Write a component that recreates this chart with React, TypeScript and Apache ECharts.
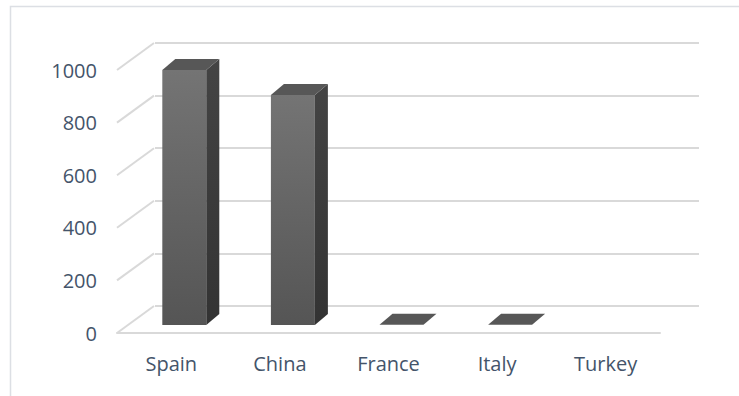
import React, { useEffect, useRef } from "react";
import * as echarts from "echarts";

const categories = ["Spain", "China", "France", "Italy", "Turkey"];
const values: (number | null)[] = [970, 875, 1, 1, null];
const yTicks = [0, 200, 400, 600, 800, 1000];

const TEXT = "#44546a";
const GRID = "#d9d9d9";
const FONT = "Open Sans";

export default function App() {
  const ref = useRef<HTMLDivElement>(null);
  useEffect(() => {
    if (!ref.current) return;
    const chart = echarts.init(ref.current, undefined, { renderer: "svg" });
    const DX = 37, DY = -27; // wall depth
    const OX = 13, OY = -8; // bar front offset
    const BX = 13, BY = -11; // bar depth

    chart.setOption({
      animation: false,
      backgroundColor: "#ffffff",
      graphic: [
        {
          type: "rect",
          shape: { x: 10.5, y: 6.5, width: 800, height: 500 },
          style: { fill: "none", stroke: "#dcdfe4", lineWidth: 1.5 },
          silent: true,
          z: -10,
        },
      ],
      grid: [
        { left: 117, right: 79, top: 70, bottom: 63 },
        { left: 155, right: 40, top: 43, bottom: 90 },
      ],
      xAxis: [
        {
          type: "category",
          gridIndex: 0,
          data: categories,
          axisLine: { show: true, lineStyle: { color: GRID, width: 2 } },
          axisTick: { show: false },
          axisLabel: { color: TEXT, fontSize: 20, fontFamily: FONT, margin: 20 },
          splitLine: { show: false },
        },
        {
          type: "category",
          gridIndex: 1,
          data: categories,
          show: false,
        },
      ],
      yAxis: [
        {
          type: "value",
          gridIndex: 0,
          min: 0,
          max: 1000,
          interval: 200,
          axisLine: { show: false },
          axisTick: { show: false },
          splitLine: { show: false },
          axisLabel: {
            color: TEXT,
            fontSize: 20,
            fontFamily: FONT,
            margin: 20,
            formatter: (v: number) => String(v),
          },
        },
        {
          type: "value",
          gridIndex: 1,
          min: 0,
          max: 1000,
          interval: 200,
          axisLine: { show: false },
          axisTick: { show: false },
          axisLabel: { show: false },
          splitLine: { show: true, lineStyle: { color: GRID, width: 2 } },
        },
      ],
      series: [
        {
          type: "custom",
          xAxisIndex: 0,
          yAxisIndex: 0,
          silent: true,
          data: yTicks.map((v) => [0, v]),
          renderItem: (params: any, api: any) => {
            const p = api.coord([0, api.value(1)]);
            const x0 = params.coordSys.x;
            return {
              type: "line",
              shape: { x1: x0, y1: p[1], x2: x0 + DX, y2: p[1] + DY },
              style: { stroke: GRID, lineWidth: 2 },
            };
          },
          z: 1,
        },
        {
          type: "custom",
          xAxisIndex: 0,
          yAxisIndex: 0,
          silent: true,
          data: categories.map((c, i) => [i, values[i]]),
          renderItem: (params: any, api: any) => {
            const v = api.value(1);
            if (v == null || isNaN(v)) return null;
            const i = api.value(0);
            const base = api.coord([i, 0]);
            const top = api.coord([i, v]);
            const w = api.size([1, 0])[0] * 0.405;
            const cx = base[0] + OX;
            const L = cx - w / 2;
            const R = cx + w / 2;
            const B = base[1] + OY;
            const T = top[1] + OY;
            const children: any[] = [];
            if (B - T > 0.5) {
              children.push({
                type: "polygon",
                shape: { points: [[L, T], [R, T], [R, B], [L, B]] },
                style: {
                  fill: new echarts.graphic.LinearGradient(0, 0, 0, 1, [
                    { offset: 0, color: "#747474" },
                    { offset: 1, color: "#555555" },
                  ]),
                },
              });
              children.push({
                type: "polygon",
                shape: { points: [[R, T], [R + BX, T + BY], [R + BX, B + BY], [R, B]] },
                style: {
                  fill: new echarts.graphic.LinearGradient(0, 0, 0, 1, [
                    { offset: 0, color: "#444444" },
                    { offset: 1, color: "#333333" },
                  ]),
                },
              });
            }
            children.push({
              type: "polygon",
              shape: { points: [[L, T], [R, T], [R + BX, T + BY], [L + BX, T + BY]] },
              style: { fill: "#575757" },
            });
            return { type: "group", children };
          },
          z: 3,
        },
      ],
    });
    return () => chart.dispose();
  }, []);
  return (
    <div
      ref={ref}
      style={{ position: "fixed", left: 0, top: 0, width: 739, height: 396 }}
    />
  );
}
